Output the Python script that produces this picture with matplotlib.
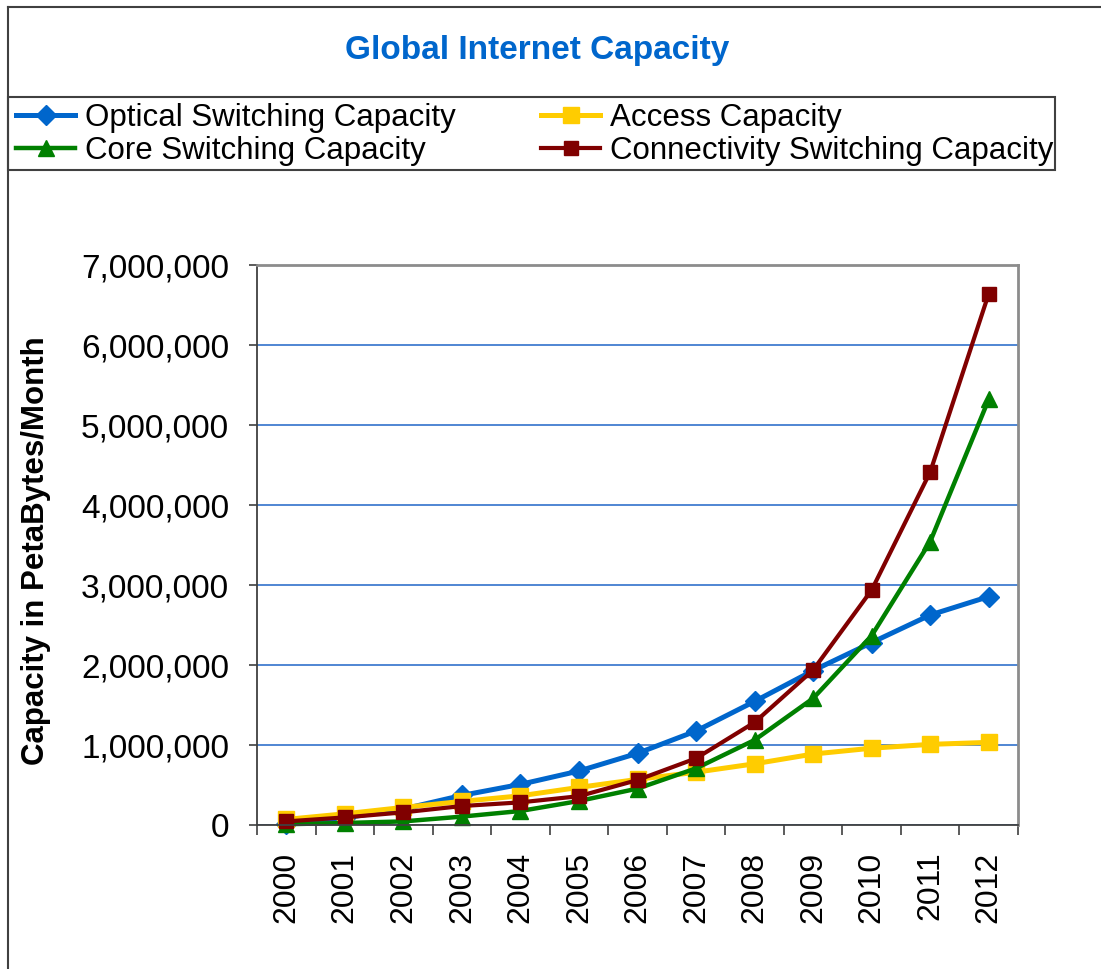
import matplotlib
matplotlib.use("Agg")
import matplotlib.pyplot as plt
from matplotlib.lines import Line2D
from matplotlib.patches import Rectangle

plt.rcParams['font.family'] = ['Liberation Sans', 'DejaVu Sans']

years = ['2000', '2001', '2002', '2003', '2004', '2005', '2006',
         '2007', '2008', '2009', '2010', '2011', '2012']

optical = [15000, 90000, 200000, 370000, 508000, 675000, 896000,
           1175000, 1545000, 1930000, 2280000, 2625000, 2855000]
access = [70000, 140000, 220000, 295000, 365000, 470000, 570000,
          660000, 765000, 887000, 960000, 1008000, 1033000]
core = [10000, 25000, 45000, 105000, 175000, 300000, 455000,
        708000, 1062000, 1583000, 2367000, 3542000, 5321000]
connectivity = [45000, 95000, 158000, 237000, 283000, 360000, 562000,
                833000, 1283000, 1937000, 2937000, 4412000, 6641000]

series_names = ['Optical Switching Capacity', 'Access Capacity',
                'Core Switching Capacity', 'Connectivity Switching Capacity']

y_ticks = [0, 1000000, 2000000, 3000000, 4000000, 5000000, 6000000, 7000000]
y_tick_labels = ['0', '1,000,000', '2,000,000', '3,000,000', '4,000,000',
                 '5,000,000', '6,000,000', '7,000,000']

W, H = 1101, 969
fig = plt.figure(figsize=(W / 100, H / 100), dpi=100)


def fx(px):
    return px / W


def fy(py):
    return 1 - py / H


# outer chart frame (left and top edges)
fig.add_artist(Line2D([fx(8), fx(8)], [fy(7), 0], transform=fig.transFigure,
                      color='#404040', lw=1.5))
fig.add_artist(Line2D([fx(8), 1], [fy(7), fy(7)], transform=fig.transFigure,
                      color='#404040', lw=1.5))

fig.text(fx(537), fy(51), 'Global Internet Capacity', ha='center', va='center',
         fontsize=24, fontweight='bold', color='#0066CC')

ax = fig.add_axes([fx(257), fy(825), fx(1018) - fx(257), fy(265) - fy(825)])

x = list(range(len(years)))
styles = [
    dict(color='#0066CC', marker='D', markersize=10, lw=3.6),
    dict(color='#FFCC00', marker='s', markersize=11, lw=3.6),
    dict(color='#008000', marker='^', markersize=12, lw=3.2),
    dict(color='#800000', marker='s', markersize=9.5, lw=3.0),
]
handles = []
for vals, name, st in zip([optical, access, core, connectivity], series_names, styles):
    h, = ax.plot(x, vals, label=name, clip_on=False, **st)
    handles.append(h)

ax.set_xlim(-0.5, len(years) - 0.5)
ax.set_ylim(0, 7000000)
ax.set_yticks(y_ticks)
ax.set_yticklabels(y_tick_labels)
ax.set_xticks(x)
ax.set_xticklabels(years, rotation=90)
ax.set_xticks([i - 0.5 for i in range(len(years) + 1)], minor=True)
ax.tick_params(axis='x', which='major', length=0, pad=19, labelsize=23)
ax.tick_params(axis='x', which='minor', length=7.5, width=1.2, color='#404040',
               direction='out')
ax.tick_params(axis='y', length=6, width=1.2, color='#404040', pad=14,
               labelsize=24, direction='out')

ax.yaxis.grid(True, color='#1F66C8', lw=1.1)
ax.set_axisbelow(True)
for side in ['left', 'bottom']:
    ax.spines[side].set_color('#404040')
    ax.spines[side].set_linewidth(1.3)
for side in ['top', 'right']:
    ax.spines[side].set_color('#8C8C8C')
    ax.spines[side].set_linewidth(2.0)

ax.set_ylabel('Capacity in PetaBytes/Month', fontsize=22.5, fontweight='bold')
ax.yaxis.set_label_coords((51 - 257) / 761, 0.49)

# legend box
fig.add_artist(Rectangle((fx(8), fy(170)), fx(1055) - fx(8), fy(97) - fy(170),
                         transform=fig.transFigure, fill=False,
                         edgecolor='#404040', lw=1.5))

leg_kw = dict(loc='upper left', frameon=False, fontsize=22.5, borderpad=0,
              borderaxespad=0, handlelength=1.9, handletextpad=0.3,
              labelspacing=0.1)
leg1 = fig.legend([handles[0], handles[2]], [series_names[0], series_names[2]],
                  bbox_to_anchor=(fx(16), fy(103)), **leg_kw)
leg2 = fig.legend([handles[1], handles[3]], [series_names[1], series_names[3]],
                  bbox_to_anchor=(fx(541), fy(103)), **leg_kw)

fig.savefig('out.png', dpi=100)
